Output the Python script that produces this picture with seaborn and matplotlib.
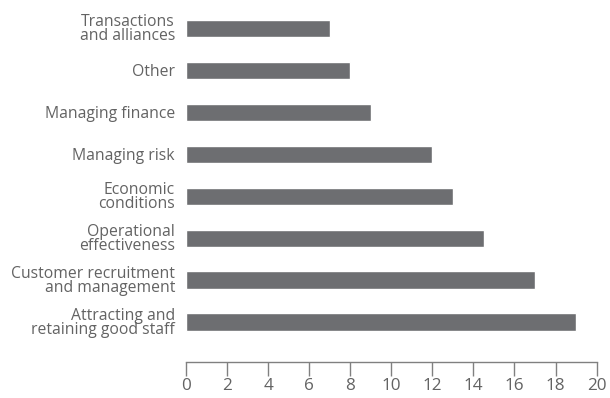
import matplotlib
matplotlib.use("Agg")
import matplotlib.pyplot as plt
import seaborn as sns
import pandas as pd

categories = ["Transactions\nand alliances", "Other", "Managing finance", "Managing risk",
              "Economic\nconditions", "Operational\neffectiveness",
              "Customer recruitment\nand management", "Attracting and\nretaining good staff"]
values = [7, 8, 9, 12, 13, 14.5, 17, 19]
xticks = [0, 2, 4, 6, 8, 10, 12, 14, 16, 18, 20]

df = pd.DataFrame({"category": categories, "value": values})

sns.set_style("white")
plt.rcParams["font.family"] = ["Open Sans", "DejaVu Sans"]

fig = plt.figure(figsize=(6.1, 3.98), dpi=100)
ax = fig.add_axes([0.305, 0.0905, 0.673, 0.8915])

sns.barplot(data=df, x="value", y="category", color="#6d6e71", saturation=1,
            width=0.41, ax=ax)

ax.set_xlim(0, 20)
ax.set_ylim(7.95, -0.5)
ax.set_xticks(xticks)
ax.set_xlabel("")
ax.set_ylabel("")

for s in ["top", "right", "left"]:
    ax.spines[s].set_visible(False)
ax.spines["bottom"].set_color("#808080")
ax.spines["bottom"].set_linewidth(1)

# x ticks hang below the axis line, labels kept inside the canvas
ax.tick_params(axis="x", direction="out", length=10, width=1, color="#808080",
               labelsize=12.3, labelcolor="#636363", pad=1.5, bottom=True)
ax.tick_params(axis="y", length=0, labelsize=11.3, labelcolor="#636363", pad=8)
for lbl in ax.get_yticklabels():
    lbl.set_linespacing(0.85)

fig.savefig("out.png", dpi=100)
